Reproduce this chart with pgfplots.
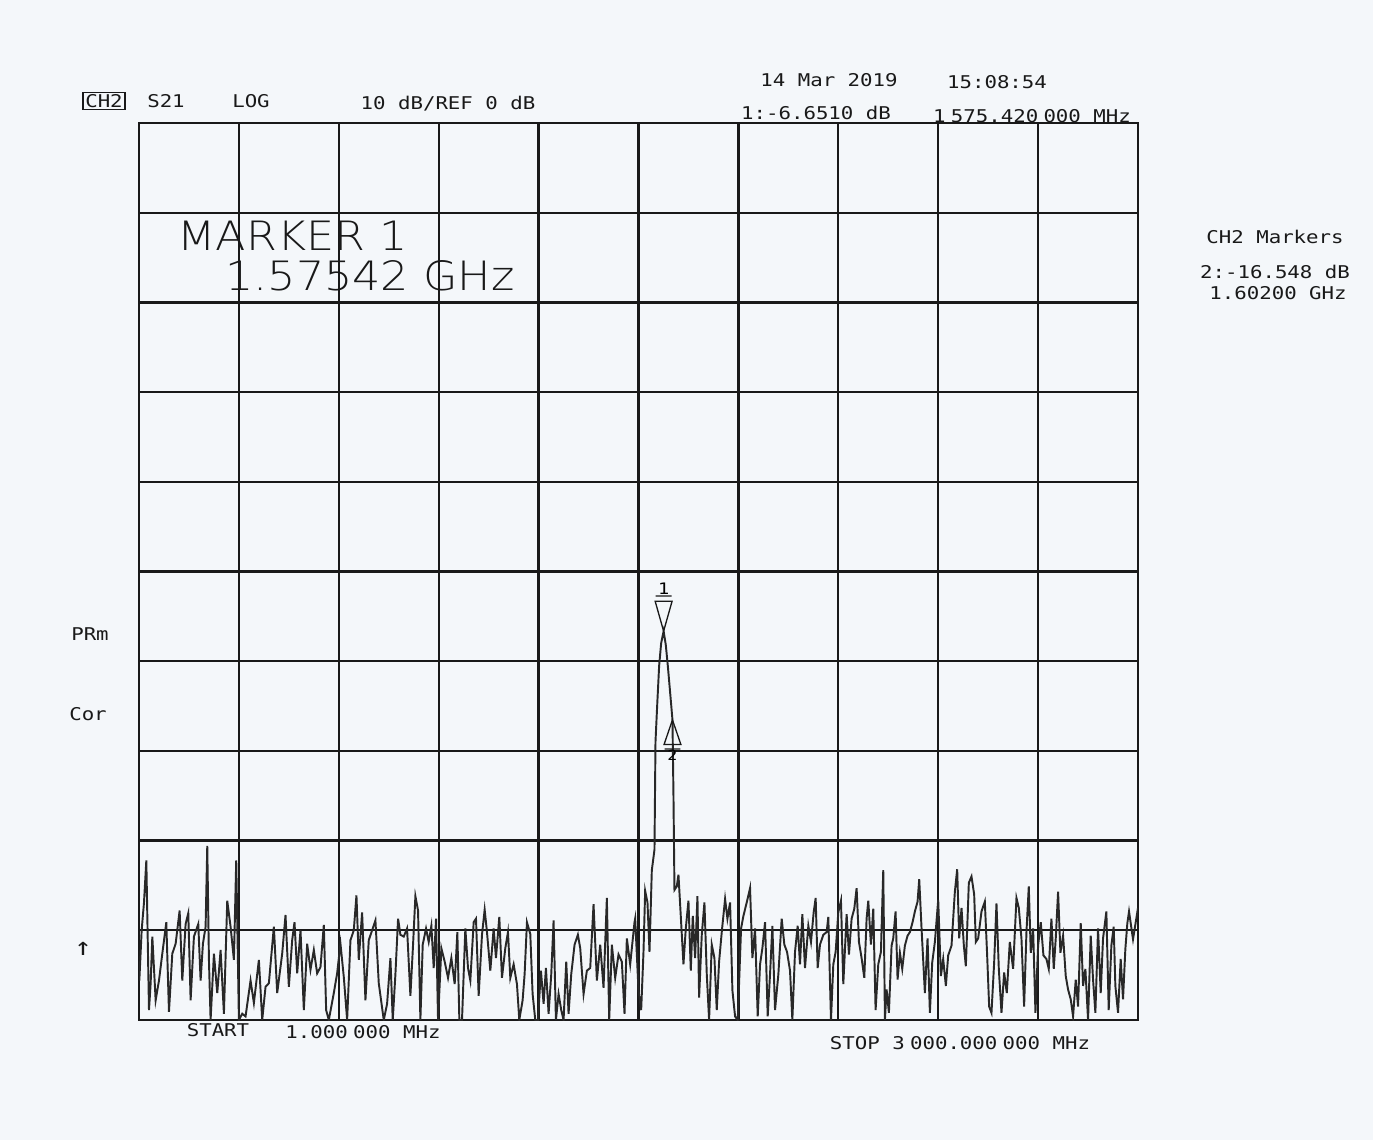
\documentclass[border=0pt]{standalone}
\usepackage{fontspec}
\usepackage{pgfplots}
\pgfplotsset{compat=1.18}
\newfontfamily\plt[FakeStretch=1.18]{DejaVu Sans Mono}
\newfontfamily\bigplt[FakeStretch=1.1]{DejaVu Sans ExtraLight}
\definecolor{paper}{RGB}{244,247,250}
\definecolor{ink}{RGB}{25,25,25}
\definecolor{trace}{RGB}{40,40,40}

% marker symbols of the analyser: tip of the triangle sits on the trace point
\pgfdeclareplotmark{mkone}{%
  \pgfpathmoveto{\pgfpoint{0pt}{0pt}}%
  \pgfpathlineto{\pgfpoint{-4.8pt}{17pt}}%
  \pgfpathlineto{\pgfpoint{4.8pt}{17pt}}%
  \pgfpathclose
  \pgfpathmoveto{\pgfpoint{-4.5pt}{20pt}}%
  \pgfpathlineto{\pgfpoint{4.5pt}{20pt}}%
  \pgfusepathqstroke
  \pgftext[bottom,at={\pgfpoint{0pt}{21pt}}]{\plt\fontsize{9}{9}\selectfont 1}%
}
\pgfdeclareplotmark{mktwo}{%
  \pgfpathmoveto{\pgfpoint{0pt}{0pt}}%
  \pgfpathlineto{\pgfpoint{-4.8pt}{-14pt}}%
  \pgfpathlineto{\pgfpoint{4.8pt}{-14pt}}%
  \pgfpathclose
  \pgfpathmoveto{\pgfpoint{-4.5pt}{-16.5pt}}%
  \pgfpathlineto{\pgfpoint{4.5pt}{-16.5pt}}%
  \pgfusepathqstroke
  \pgftext[top,at={\pgfpoint{0pt}{-17pt}}]{\plt\fontsize{8}{8}\selectfont 2}%
}

\begin{document}
\begin{tikzpicture}
\fill[paper] (-2.78,-2.4) rectangle (24.68,20.4);
\begin{axis}[
    name=ax, at={(0,0)}, anchor=south west,
    scale only axis,
    width=19.98cm, height=17.94cm,
    xmin=0, xmax=3000,
    ymin=-50, ymax=50,
    xtick={0,300,...,3000},
    ytick={-50,-40,...,50},
    xticklabels={}, yticklabels={},
    major tick length=0pt,
    grid=major,
    major grid style={ink, line width=1.3pt},
    axis line style={ink, line width=1.3pt},
]
% S21 trace, 1 MHz .. 3000 MHz, dB
\addplot[trace, line width=1.1pt, sharp plot] coordinates {
(1,-45.6) (8,-40.0) (15,-36.9) (22,-32.2) (30,-48.9) (35,-45.9) (40,-40.7) (50,-47.8)
(60,-45.6) (70,-42.6) (82,-39.1) (90,-49.1) (100,-42.6) (110,-41.5) (122,-37.8) (130,-45.6)
(140,-39.3) (148,-38.1) (155,-47.8) (165,-40.7) (178,-39.3) (185,-45.6) (192,-41.5) (200,-39.6)
(205,-30.6) (210,-43.3) (215,-50.0) (225,-42.6) (235,-47.0) (245,-42.2) (255,-49.3) (265,-36.7)
(275,-39.6) (285,-43.3) (292,-32.2) (300,-50.0) (310,-49.3) (320,-49.6) (335,-45.6) (345,-48.1)
(360,-43.3) (370,-50.0) (380,-46.3) (390,-45.9) (405,-39.6) (415,-47.0) (430,-42.6) (440,-38.3)
(450,-46.3) (460,-41.1) (467,-39.1) (475,-44.8) (485,-40.0) (495,-48.9) (505,-41.5) (515,-44.4)
(525,-42.2) (535,-44.8) (545,-44.1) (555,-39.4) (562,-48.9) (570,-50.0) (585,-47.0) (595,-44.8)
(605,-41.5) (615,-45.2) (625,-50.0) (635,-41.1) (645,-40.0) (653,-36.1) (660,-43.3) (670,-38.0)
(680,-47.8) (690,-41.1) (700,-40.0) (710,-38.9) (720,-45.9) (735,-50.0)
(745,-48.2) (755,-43.1) (762,-50.0) (770,-44.9) (778,-38.7) (785,-40.5) (795,-40.7) (805,-39.8)
(815,-47.3) (823,-41.6) (830,-36.2) (838,-37.8) (845,-50.0) (852,-41.6) (862,-39.8) (870,-41.3)
(878,-39.5) (885,-44.2) (892,-38.7) (898,-50.0) (908,-42.0) (918,-43.5) (928,-45.3) (938,-43.1)
(948,-46.0) (956,-40.2) (962,-50.0) (970,-50.0) (980,-39.8) (988,-44.2) (995,-45.6) (1005,-39.1)
(1012,-38.7) (1020,-47.3) (1030,-40.5) (1038,-37.7) (1045,-40.2) (1055,-44.5) (1065,-39.8) (1072,-43.1)
(1082,-38.5) (1090,-45.3) (1100,-42.0) (1108,-40.2) (1115,-45.3) (1125,-43.8) (1135,-46.0) (1142,-50.0)
(1152,-47.8) (1158,-44.9) (1165,-39.1) (1175,-40.4) (1182,-47.1) (1190,-50.0) (1198,-50.0) (1207,-44.5)
(1215,-48.2) (1222,-44.2) (1230,-49.3) (1238,-44.9) (1245,-38.9) (1252,-50.0) (1260,-47.1) (1268,-48.9)
(1275,-50.0) (1283,-43.5) (1290,-49.3) (1298,-44.9) (1308,-41.6) (1318,-40.5) (1325,-42.0) (1335,-47.1)
(1345,-44.5) (1355,-44.2) (1365,-37.1) (1375,-45.6) (1385,-41.6) (1395,-46.4) (1405,-36.4) (1412,-50.0)
(1420,-41.6) (1430,-45.3) (1440,-42.7) (1450,-43.5) (1458,-49.3) (1465,-40.9) (1475,-43.8) (1488,-39.1)
(1490,-38.7) (1500,-46.7) (1508,-48.9) (1515,-42.4) (1520,-35.6) (1527,-36.9) (1533,-42.4) (1540,-33.3)
(1548,-31.0) (1551,-19.0) (1556,-15.0) (1562,-10.5) (1568,-8.0) (1575.42,-6.651) (1582,-8.2) (1588,-10.5)
(1595,-13.5) (1602,-16.548) (1605,-25.0) (1608,-35.5)
(1615,-35.1) (1620,-33.8) (1628,-39.1) (1635,-43.8) (1642,-39.8) (1650,-36.7) (1657,-44.5) (1663,-38.4)
(1670,-43.1) (1677,-36.2) (1682,-47.5) (1690,-40.5) (1698,-36.9) (1705,-44.9) (1712,-50.0) (1720,-41.6)
(1728,-43.1) (1735,-48.9) (1742,-43.5) (1750,-40.2) (1760,-36.5) (1767,-38.7) (1775,-36.9) (1782,-46.7)
(1790,-49.6) (1798,-50.0) (1808,-39.8) (1815,-38.4) (1825,-36.9) (1835,-35.3) (1842,-43.1) (1850,-39.8)
(1858,-49.6) (1865,-43.8) (1872,-42.0) (1880,-39.1) (1888,-49.6) (1895,-44.9) (1902,-39.5) (1910,-48.9)
(1920,-44.9) (1930,-38.7) (1938,-41.6) (1946,-42.4) (1955,-44.5) (1962,-50.0) (1970,-42.4) (1978,-39.5)
(1985,-43.8) (1992,-38.2) (2000,-44.2) (2010,-39.5) (2018,-41.3) (2026,-38.0) (2032,-36.4) (2038,-44.2)
(2045,-41.6) (2055,-40.5) (2065,-40.2) (2070,-38.5) (2078,-50.0) (2085,-43.8) (2092,-42.4) (2100,-38.0)
(2108,-36.7) (2115,-46.0) (2125,-38.2) (2132,-42.7) (2140,-38.7) (2148,-37.6) (2155,-35.3) (2162,-41.3)
(2170,-43.1) (2178,-45.3) (2185,-38.7) (2190,-36.7) (2198,-41.6) (2205,-37.6) (2212,-48.9) (2220,-43.8)
(2228,-42.4) (2235,-33.3) (2240,-50.0)
(2245,-46.6) (2252,-49.2) (2260,-41.7) (2265,-40.9) (2272,-37.9) (2278,-45.5) (2285,-42.5) (2292,-44.3)
(2300,-41.7) (2308,-40.6) (2315,-40.2) (2323,-39.1) (2330,-37.9) (2338,-36.8) (2343,-34.3) (2350,-39.8)
(2360,-47.0) (2368,-40.9) (2375,-49.2) (2382,-43.6) (2390,-41.3) (2400,-36.6) (2408,-45.1) (2415,-43.2)
(2423,-46.2) (2430,-42.8) (2440,-41.7) (2450,-35.7) (2457,-33.2) (2463,-40.9) (2470,-37.5) (2477,-41.7)
(2483,-44.0) (2492,-34.7) (2500,-34.0) (2508,-36.0) (2513,-41.3) (2520,-40.9) (2530,-37.9) (2540,-36.8)
(2547,-42.8) (2553,-48.5) (2560,-49.2) (2568,-43.6) (2575,-37.0) (2582,-44.3) (2590,-49.2) (2598,-44.7)
(2606,-47.0) (2615,-41.3) (2625,-44.3) (2635,-36.4) (2642,-37.5) (2650,-40.9) (2658,-48.5) (2665,-40.2)
(2672,-35.1) (2678,-42.5) (2685,-39.8) (2692,-49.2) (2700,-41.7) (2708,-39.1) (2716,-42.8) (2725,-43.2)
(2732,-44.3) (2740,-38.7) (2747,-44.3) (2753,-40.9) (2760,-35.7) (2767,-42.5) (2775,-40.6) (2783,-45.1)
(2790,-46.6) (2798,-47.7) (2805,-49.6) (2813,-45.5) (2820,-48.5) (2828,-39.2) (2835,-46.2) (2842,-44.3)
(2850,-50.0) (2858,-40.6) (2865,-45.5) (2872,-49.2) (2880,-39.8) (2888,-47.0) (2895,-40.9) (2905,-37.9)
(2912,-48.9) (2920,-41.7) (2927,-39.6) (2932,-46.2) (2940,-49.2) (2948,-43.2) (2955,-47.7) (2962,-42.1)
(2968,-39.2) (2973,-37.9) (2985,-41.0) (3000,-37.5)
};
% marker 1 and marker 2
\addplot[only marks, mark=mkone, mark options={ink, line width=0.75pt}] coordinates {(1575.42,-6.651)};
\addplot[only marks, mark=mktwo, mark options={ink, line width=0.75pt}] coordinates {(1602,-16.548)};
% reference position arrow at 0 dB
\draw[ink, line width=0.7pt] (rel axis cs:1,0.5) ++(1pt,0) -- ++(2.5pt,2.2pt) -- ++(4pt,0) -- ++(0,-4.4pt) -- ++(-4pt,0) -- cycle;
\end{axis}

% annotation text of the analyser print-out
\begin{scope}[every node/.style={inner sep=0pt, text=ink}, font=\plt\fontsize{10}{12}\selectfont]
\node[draw=ink, line width=0.8pt, inner sep=1.2pt] at (-0.70,18.38) {CH2};
\node at (0.54,18.38) {S21};
\node at (2.24,18.38) {LOG};
\node at (6.18,18.32) {10 dB/REF 0 dB};
\node at (13.80,18.80) {14 Mar 2019};
\node at (17.16,18.76) {15:08:54};
\node at (13.54,18.14) {1:-6.6510 dB};
\node at (17.86,18.08) {1\hspace{0.3em}575.420\hspace{0.3em}000 MHz};
\node at (22.72,15.66) {CH2 Markers};
\node at (22.72,14.96) {2:-16.548 dB};
\node at (22.78,14.54) {1.60200 GHz};
\node at (-0.98,7.72) {PRm};
\node at (-1.02,6.12) {Cor};
\node[font=\plt\fontsize{14}{14}\selectfont] at (-1.12,1.42) {↑};
\node at (1.58,-0.20) {START};
\node at (4.48,-0.24) {1.000\hspace{0.3em}000 MHz};
\node at (16.42,-0.46) {STOP 3\hspace{0.3em}000.000\hspace{0.3em}000 MHz};
\node[anchor=base west, font=\bigplt\fontsize{23}{26}\selectfont] at (0.76,15.38) {MARKER 1};
\node[anchor=base west, font=\bigplt\fontsize{23}{26}\selectfont] at (1.72,14.58) {1.57542 GHz};
\end{scope}
\end{tikzpicture}
\end{document}
